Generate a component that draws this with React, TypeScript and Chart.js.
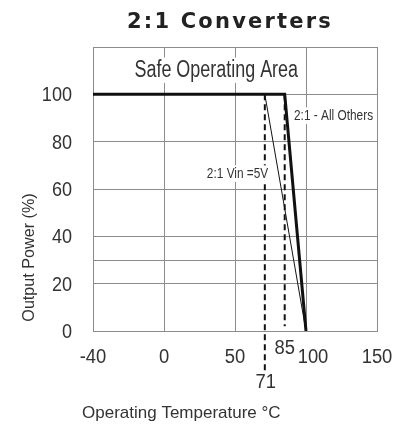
import React, { useEffect, useRef } from "react";
import { Chart, registerables } from "chart.js";

Chart.register(...registerables);

// ---- data ----
const title = "2:1 Converters";
const xTickValues = [-40, 0, 50, 100, 150];
const yGridValues = [0, 20, 30, 40, 60, 80, 100, 120];
const yLabelValues = [0, 20, 40, 60, 80, 100];
const allOthersTemps = [-40, 85, 100];
const allOthersPower = [100, 100, 0];
const vin5Temps = [-40, 71, 100];
const vin5Power = [100, 100, 0];
const marker71Temps = [71, 71];
const marker71Power = [100, -17];
const marker85Temps = [85, 85];
const marker85Power = [100, 2];

// the axis gives -40..0 the same width as each 50° division
const ax = (v: number) => (v < 0 ? (v * 50) / 40 : v);
const pts = (xs: number[], ys: number[]) => xs.map((x, i) => ({ x: ax(x), y: ys[i] }));

const SANS = '"Liberation Sans", Arial, sans-serif';
const TEXT = "#333";
const GRID = "#8c8c8c";

function drawText(
  ctx: CanvasRenderingContext2D,
  text: string,
  x: number,
  y: number,
  size: number,
  opts: {
    sx?: number;
    bg?: boolean;
    rotate?: number;
    align?: CanvasTextAlign;
    spacing?: string;
    color?: string;
    font?: string;
  } = {}
) {
  ctx.save();
  ctx.font = opts.font || `${size}px ${SANS}`;
  (ctx as any).letterSpacing = opts.spacing || "0px";
  ctx.textAlign = opts.align || "center";
  ctx.textBaseline = "alphabetic";
  ctx.translate(x, y);
  if (opts.rotate) ctx.rotate(opts.rotate);
  ctx.scale(opts.sx || 1, 1);
  if (opts.bg) {
    const w = ctx.measureText(text).width;
    let x0 = -w / 2;
    if (opts.align === "left") x0 = 0;
    if (opts.align === "right") x0 = -w;
    ctx.fillStyle = "#fff";
    ctx.fillRect(x0 - 3, -size * 0.85, w + 6, size * 1.1);
  }
  ctx.fillStyle = opts.color || TEXT;
  ctx.fillText(text, 0, 0);
  ctx.restore();
}

const textPlugin = {
  id: "texts",
  afterDatasetsDraw(chart: any) {
    const { ctx, chartArea: a, scales } = chart;
    const xs = scales.x;
    const ys = scales.y;
    // title
    drawText(ctx, title, (a.left + a.right) / 2 - 5, 20, 21, {
      font: 'bold 21px "DejaVu Sans", sans-serif',
      spacing: "2.2px",
      color: "#222",
    });
    // in-plot labels
    drawText(ctx, "Safe Operating Area", xs.getPixelForValue(ax(36.8)), ys.getPixelForValue(107.3), 23, { sx: 0.78, bg: true });
    drawText(ctx, "2:1 - All Others", xs.getPixelForValue(ax(119.4)), ys.getPixelForValue(89.1), 15, { sx: 0.79, bg: true });
    drawText(ctx, "2:1 Vin =5V", xs.getPixelForValue(ax(51.8)), ys.getPixelForValue(64.6), 15, { sx: 0.79, bg: true });
    // y tick labels
    yLabelValues.forEach((v) => {
      drawText(ctx, String(v), a.left - 21, ys.getPixelForValue(v) + 7, 21, { sx: 0.86, align: "right" });
    });
    // x tick labels
    xTickValues.forEach((v) => {
      const dx = v === 100 ? 7 : 0;
      drawText(ctx, String(v), xs.getPixelForValue(ax(v)) + dx, a.bottom + 32, 20, { sx: 0.92 });
    });
    drawText(ctx, "85", xs.getPixelForValue(ax(85)), a.bottom + 23, 20, { sx: 0.92 });
    drawText(ctx, "71", xs.getPixelForValue(ax(71)) + 1, a.bottom + 57, 20, { sx: 0.92 });
    // axis titles
    drawText(ctx, "Operating Temperature °C", 74, a.bottom + 87, 17, { align: "left" });
    drawText(ctx, "Output Power (%)", 26, 249.5, 17, { sx: 0.95, rotate: -Math.PI / 2 });
  },
};

export default function App() {
  const ref = useRef<HTMLCanvasElement | null>(null);
  useEffect(() => {
    if (!ref.current) return;
    const chart = new Chart(ref.current, {
      type: "line",
      data: {
        datasets: [
          {
            label: "71",
            data: pts(marker71Temps, marker71Power),
            borderColor: "#111",
            borderWidth: 2,
            borderDash: [6, 4],
            pointRadius: 0,
            clip: false as any,
          },
          {
            label: "85",
            data: pts(marker85Temps, marker85Power),
            borderColor: "#111",
            borderWidth: 2,
            borderDash: [6, 4],
            pointRadius: 0,
          },
          {
            label: "2:1 Vin =5V",
            data: pts(vin5Temps, vin5Power),
            borderColor: "#111",
            borderWidth: 1,
            pointRadius: 0,
          },
          {
            label: "2:1 - All Others",
            data: pts(allOthersTemps, allOthersPower),
            borderColor: "#111",
            borderWidth: 3,
            pointRadius: 0,
          },
        ],
      },
      options: {
        animation: false,
        responsive: true,
        maintainAspectRatio: false,
        layout: { padding: { top: 39, right: 20, left: 0, bottom: 0 } },
        plugins: { legend: { display: false }, tooltip: { enabled: false }, title: { display: false } },
        scales: {
          x: {
            type: "linear",
            min: ax(-40),
            max: 150,
            afterBuildTicks: (s: any) => {
              s.ticks = xTickValues.map((v) => ({ value: ax(v) }));
            },
            afterFit: (s: any) => {
              s.height = 91;
            },
            ticks: { display: false },
            grid: { color: GRID, lineWidth: 1, drawTicks: false },
            border: { color: GRID, width: 1 },
          },
          y: {
            type: "linear",
            min: 0,
            max: 120,
            afterBuildTicks: (s: any) => {
              s.ticks = yGridValues.map((v) => ({ value: v }));
            },
            afterFit: (s: any) => {
              s.width = 85;
            },
            ticks: { display: false },
            grid: { color: GRID, lineWidth: 1, drawTicks: false },
            border: { color: GRID, width: 1 },
          },
        },
      },
      plugins: [textPlugin],
    });
    return () => chart.destroy();
  }, []);
  return (
    <div style={{ position: "relative", width: 389, height: 414 }}>
      <canvas ref={ref} />
    </div>
  );
}
